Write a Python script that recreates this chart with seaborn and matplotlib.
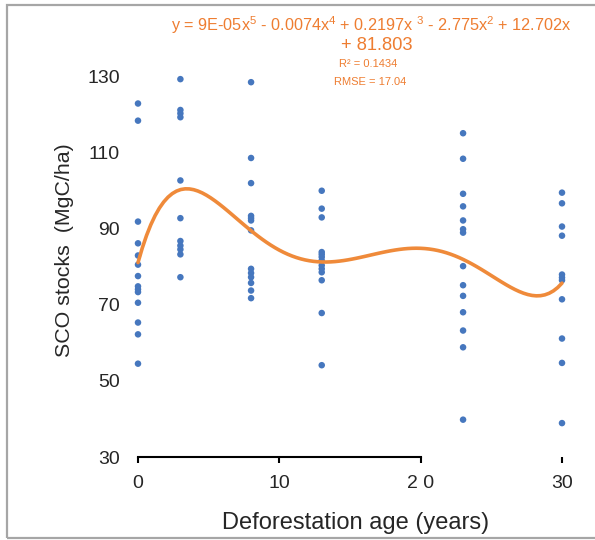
import numpy as np
import pandas as pd
import matplotlib
matplotlib.use("Agg")
import matplotlib.pyplot as plt
import seaborn as sns
from matplotlib.patches import Rectangle

# ---- data ----
ages = [0, 3, 8, 13, 23, 30]
soc_age0 = [122.8, 118.3, 91.8, 86.1, 82.9, 80.5, 77.5, 74.8, 74.0, 73.3, 70.5, 65.3, 62.2, 54.5]
soc_age3 = [129.2, 121.1, 120.2, 119.2, 102.6, 92.7, 86.7, 85.5, 84.5, 83.2, 77.2]
soc_age8 = [128.4, 108.5, 101.9, 93.3, 92.7, 92.1, 89.5, 79.4, 78.3, 77.2, 75.7, 73.7, 71.7]
soc_age13 = [99.9, 95.2, 92.9, 83.8, 83.2, 82.5, 81.6, 80.3, 79.4, 78.5, 76.4, 67.8, 54.1]
soc_age23 = [115.0, 108.3, 99.1, 95.8, 92.1, 89.8, 88.9, 80.1, 75.1, 72.3, 68.0, 63.2, 58.8, 39.8]
soc_age30 = [99.4, 96.6, 90.5, 88.1, 77.9, 77.1, 76.4, 71.4, 61.1, 54.7, 38.9]
columns = [soc_age0, soc_age3, soc_age8, soc_age13, soc_age23, soc_age30]

x_ticks = [0, 10, 20, 30]
x_ticklabels = ["0", "10", "2 0", "30"]
y_ticks = [30, 50, 70, 90, 110, 130]

eq_line1 = r"y = 9E-05x$^{5}$ - 0.0074x$^{4}$ + 0.2197x $^{3}$ - 2.775x$^{2}$ + 12.702x"
eq_line2 = "+ 81.803"
r2_text = "R² = 0.1434"
rmse_text = "RMSE = 17.04"

df = pd.DataFrame({
    "age": np.concatenate([[a] * len(c) for a, c in zip(ages, columns)]),
    "soc": np.concatenate(columns),
})

# ---- style ----
sns.set_style("white")
plt.rcParams["font.family"] = ["Liberation Sans", "DejaVu Sans"]
plt.rcParams["mathtext.fontset"] = "custom"
plt.rcParams["mathtext.rm"] = "Liberation Sans"
plt.rcParams["mathtext.default"] = "regular"

W, H = 595, 540
fig = plt.figure(figsize=(W / 100, H / 100), dpi=100)
fig.patch.set_facecolor("white")

# outer grey frame
fig.patches.append(Rectangle((7 / W, 2 / H), 1.2, 533 / H, transform=fig.transFigure,
                             fill=False, edgecolor="#a6a6a6", linewidth=1.6))

ax = fig.add_axes([128.1 / W, 83 / H, 455.1 / W, 419 / H])

sns.scatterplot(data=df, x="age", y="soc", ax=ax, color="#4677BE", s=22,
                edgecolor="none", zorder=3)
sns.regplot(data=df, x="age", y="soc", ax=ax, order=5, ci=None, scatter=False,
            line_kws=dict(color="#EF8A3A", lw=2.6, solid_capstyle="round", zorder=4))

ax.set_xlim(-0.7, 31.5)
ax.set_ylim(30, 140)

for s in ["left", "top", "right"]:
    ax.spines[s].set_visible(False)
ax.spines["bottom"].set_bounds(0, 20)
ax.spines["bottom"].set_linewidth(1.5)
ax.spines["bottom"].set_color("black")

ax.set_xticks(x_ticks)
ax.set_xticklabels(x_ticklabels)
ax.set_yticks(y_ticks)
ax.tick_params(axis="x", direction="out", length=4, width=1.5, color="black",
               labelsize=14, pad=9, bottom=True)
ax.tick_params(axis="y", length=0, labelsize=14, pad=6)

ax.set_xlabel("Deforestation age (years)", fontsize=17)
ax.set_ylabel("SCO stocks  (MgC/ha)", fontsize=15.4)
ax.xaxis.set_label_coords(0.5008, -0.131)
ax.yaxis.set_label_coords(-0.119, 0.494)

orange = "#EE7D31"
fig.text(371 / W, 1 - 25 / H, eq_line1, color=orange, fontsize=11.7, ha="center", va="center")
fig.text(377 / W, 1 - 46 / H, eq_line2, color=orange, fontsize=13.2, ha="center", va="center")
fig.text(368 / W, 1 - 64 / H, r2_text, color=orange, fontsize=8, ha="center", va="center")
fig.text(370 / W, 1 - 82 / H, rmse_text, color=orange, fontsize=8, ha="center", va="center")

fig.savefig("out.png", dpi=100, facecolor="white")
